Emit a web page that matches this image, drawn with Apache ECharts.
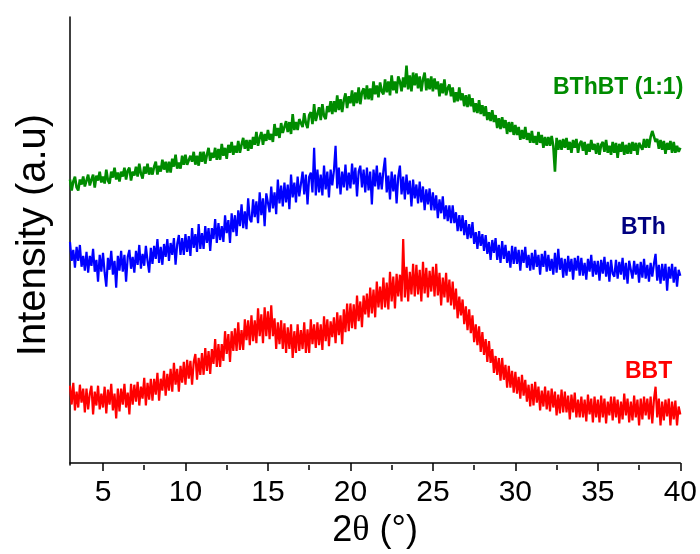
<!DOCTYPE html>
<html>
<head>
<meta charset="utf-8">
<script src="https://cdn.jsdelivr.net/npm/echarts@6/dist/echarts.min.js"></script>
<style>html,body{margin:0;padding:0;background:#fff}#c{width:700px;height:554px}</style>
</head>
<body>
<div id="c"></div>
<script>
// 2θ scan: start 3°, step 0.1°
const scanStart = 3;
const scanStep = 0.1;
const majorTicks = [5, 10, 15, 20, 25, 30, 35, 40];
const minorTicks = [7.5, 12.5, 17.5, 22.5, 27.5, 32.5, 37.5];
const seriesNames = ['BThBT (1:1)', 'BTh', 'BBT'];

const bthbt = [
286,275,284,289,278,275,286,281,289,279,
281,291,280,286,291,278,290,285,294,283,
289,282,296,285,282,294,288,298,286,293,
284,294,289,298,286,295,298,285,294,290,
299,289,302,292,287,299,292,302,291,298,
291,299,304,291,300,294,306,296,304,293,
304,293,307,299,311,297,303,297,310,301,
311,301,299,310,304,314,301,310,300,314,
304,314,302,311,318,305,313,308,318,306,
317,306,322,310,318,307,321,313,324,311,
320,313,325,313,321,328,317,326,315,326,
317,329,321,334,320,328,334,321,332,325,
336,326,332,324,342,330,338,328,343,333,
331,345,334,344,332,352,336,344,336,347,
349,339,353,343,338,351,354,342,362,345,
346,359,346,362,350,347,360,354,365,352,
365,354,371,356,367,354,366,373,358,370,
363,376,360,374,363,379,362,374,378,367,
381,367,378,366,385,372,381,369,384,375,
372,387,374,385,371,391,376,385,373,390,
385,375,389,379,401,377,391,375,394,381,
393,378,390,375,387,394,376,388,377,390,
375,388,377,385,370,383,373,387,371,378,
382,370,379,364,374,365,379,366,373,360,
371,359,372,360,368,354,363,353,366,352,
361,350,360,346,354,345,356,344,351,338,
348,337,349,338,346,332,344,334,344,331,
341,331,339,326,336,327,339,326,333,323,
335,323,330,321,334,323,331,318,329,320,
329,320,330,320,294,328,316,326,316,327,
318,328,316,324,313,326,318,327,313,322,
325,315,324,311,322,314,326,316,322,312,
323,311,321,324,314,326,313,320,311,324,
313,323,308,322,314,324,311,321,312,323,
312,324,315,323,311,323,325,316,327,318,
327,318,329,335,336,324,327,317,326,316,
325,312,323,316,325,313,324,313,320,314,
318];

const bth = [
223,204,215,197,218,204,220,198,209,194,
213,192,209,199,216,193,205,183,210,193,
212,192,178,207,195,214,190,204,177,209,
194,214,193,210,183,208,215,196,208,192,
214,200,220,196,211,199,219,204,192,217,
201,219,206,226,202,218,200,221,208,226,
204,222,210,227,200,221,230,210,227,210,
231,213,229,209,237,217,231,213,241,216,
232,216,239,222,237,214,237,226,246,222,
242,225,239,223,250,232,245,222,252,233,
250,229,255,239,261,237,254,236,267,246,
243,266,248,264,242,273,250,267,239,272,
271,253,279,257,273,251,286,262,280,259,
283,263,281,256,291,268,283,263,289,269,
267,294,271,291,261,289,293,273,318,270,
296,273,291,270,300,276,294,268,296,280,
295,320,277,298,271,294,278,301,275,293,
277,302,281,298,269,294,300,278,296,273,
298,275,294,261,296,279,300,276,293,276,
295,308,273,290,266,294,274,291,262,289,
300,271,289,266,291,271,285,259,286,267,
281,262,284,263,279,255,276,261,277,255,
273,255,270,247,266,252,269,246,260,244,
260,242,260,242,253,234,250,234,250,230,
245,226,241,227,243,221,233,216,234,219,
231,214,230,211,223,205,225,212,227,205,
220,202,224,206,220,202,214,197,219,201,
218,201,215,194,215,202,218,197,210,194,
212,195,215,198,210,190,211,198,214,193,
210,194,206,190,212,192,216,195,207,187,
206,189,209,193,206,185,207,194,209,189,
207,189,202,185,206,193,210,188,204,190,
204,184,205,191,208,188,203,183,205,191,
188,205,186,203,190,207,185,202,181,204,
202,186,204,190,201,182,203,187,206,186,
200,183,202,188,201,211,184,200,181,201,
184,201,174,198,186,201,182,198,178,195,
189];

const bbt = [
78,59,81,53,72,56,79,61,75,51,
75,54,70,78,49,72,58,78,54,70,
56,77,50,74,59,80,53,70,45,75,
52,75,59,80,56,71,49,80,59,79,
62,82,58,77,65,86,58,81,64,85,
63,85,69,91,63,85,73,93,68,90,
73,95,72,101,79,95,72,98,81,102,
79,104,85,103,79,102,110,84,106,89,
111,89,116,93,113,90,115,100,125,97,
120,97,120,103,133,110,130,102,133,113,
136,113,142,114,134,114,145,124,144,119,
149,123,144,121,156,128,150,121,157,128,
153,125,159,128,146,115,142,120,144,115,
141,111,137,115,140,106,133,111,140,113,
134,115,142,111,135,111,145,120,140,116,
142,119,140,114,148,123,145,118,143,127,
147,121,152,129,149,120,155,132,161,133,
161,136,160,135,169,143,163,137,169,150,
171,147,177,151,175,147,183,157,178,155,
187,157,182,155,193,163,188,156,191,168,
190,163,226,167,198,163,193,170,201,168,
200,170,195,163,203,171,197,167,194,173,
198,168,201,169,192,159,187,167,192,162,
185,159,183,155,176,146,168,149,165,140,
158,134,155,131,149,122,140,119,138,112,
132,109,125,102,123,101,115,91,108,89,
106,83,106,84,99,76,98,76,93,71,
92,70,87,65,89,68,84,62,79,57,
80,58,82,61,77,53,73,57,77,54,
73,52,75,56,72,48,69,50,74,51,
72,51,68,44,69,51,71,46,64,46,
67,46,64,42,69,49,65,41,67,46,
64,41,68,46,65,40,62,48,67,43,
67,46,64,40,62,44,70,48,65,41,
62,43,68,46,64,38,65,44,67,48,
65,44,67,40,64,77,46,65,38,62,
43,64,47,65,38,62,44,63,38,57,
49];

function pairs(vals) {
  return vals.map((v, i) => [+(scanStart + i * scanStep).toFixed(2), v]);
}

const chart = echarts.init(document.getElementById('c'), null, {renderer: 'canvas'});
const font = 'Liberation Sans, Arial, sans-serif';
chart.setOption({
  animation: false,
  backgroundColor: '#fff',
  grid: {left: 70, right: 19, top: 17, bottom: 85, containLabel: false},
  xAxis: [{
    type: 'value', min: 3, max: 40, position: 'bottom',
    name: '2{t|θ} (°)', nameLocation: 'middle', nameGap: 48,
    nameTextStyle: {fontSize: 36, color: '#000', fontFamily: font,
      rich: {t: {fontSize: 36, fontFamily: 'Liberation Serif, Times New Roman, serif', color: '#000'}}},
    axisLine: {show: true, lineStyle: {color: '#000', width: 1.5}},
    axisTick: {show: true, inside: false, length: 8, customValues: majorTicks, lineStyle: {color: '#000', width: 1.5}},
    axisLabel: {show: true, customValues: majorTicks, fontSize: 30, color: '#000', fontFamily: font, margin: 13},
    splitLine: {show: false}
  }, {
    type: 'value', min: 3, max: 40, position: 'bottom', offset: 0,
    axisLine: {show: false},
    axisTick: {show: true, length: 5, customValues: minorTicks, lineStyle: {color: '#000', width: 1.5}},
    axisLabel: {show: false},
    splitLine: {show: false}
  }],
  yAxis: {
    type: 'value', min: -2, max: 450,
    name: 'Intensity (a.u)', nameLocation: 'middle', nameGap: 16, nameRotate: 90,
    nameTextStyle: {fontSize: 40, color: '#000', fontFamily: font, padding: [0, 0, 0, 12]},
    axisLine: {show: true, lineStyle: {color: '#000', width: 1.5}},
    axisTick: {show: false}, axisLabel: {show: false}, splitLine: {show: false}
  },
  series: [
    {name: seriesNames[0], type: 'line', data: pairs(bthbt), showSymbol: false, lineStyle: {color: '#008C00', width: 2.6}, itemStyle: {color: '#008C00'}},
    {name: seriesNames[1], type: 'line', data: pairs(bth), showSymbol: false, lineStyle: {color: '#0000FF', width: 2.2}, itemStyle: {color: '#0000FF'}},
    {name: seriesNames[2], type: 'line', data: pairs(bbt), showSymbol: false, lineStyle: {color: '#FF0000', width: 2.2}, itemStyle: {color: '#FF0000'}}
  ],
  graphic: [
    {type: 'text', left: 553, top: 76, style: {text: seriesNames[0], fill: '#008C00', font: 'bold 23px ' + font}},
    {type: 'text', left: 621, top: 216, style: {text: seriesNames[1], fill: '#000080', font: 'bold 23px ' + font}},
    {type: 'text', left: 625, top: 360, style: {text: seriesNames[2], fill: '#FF0000', font: 'bold 23px ' + font}}
  ]
});
</script>
</body>
</html>
